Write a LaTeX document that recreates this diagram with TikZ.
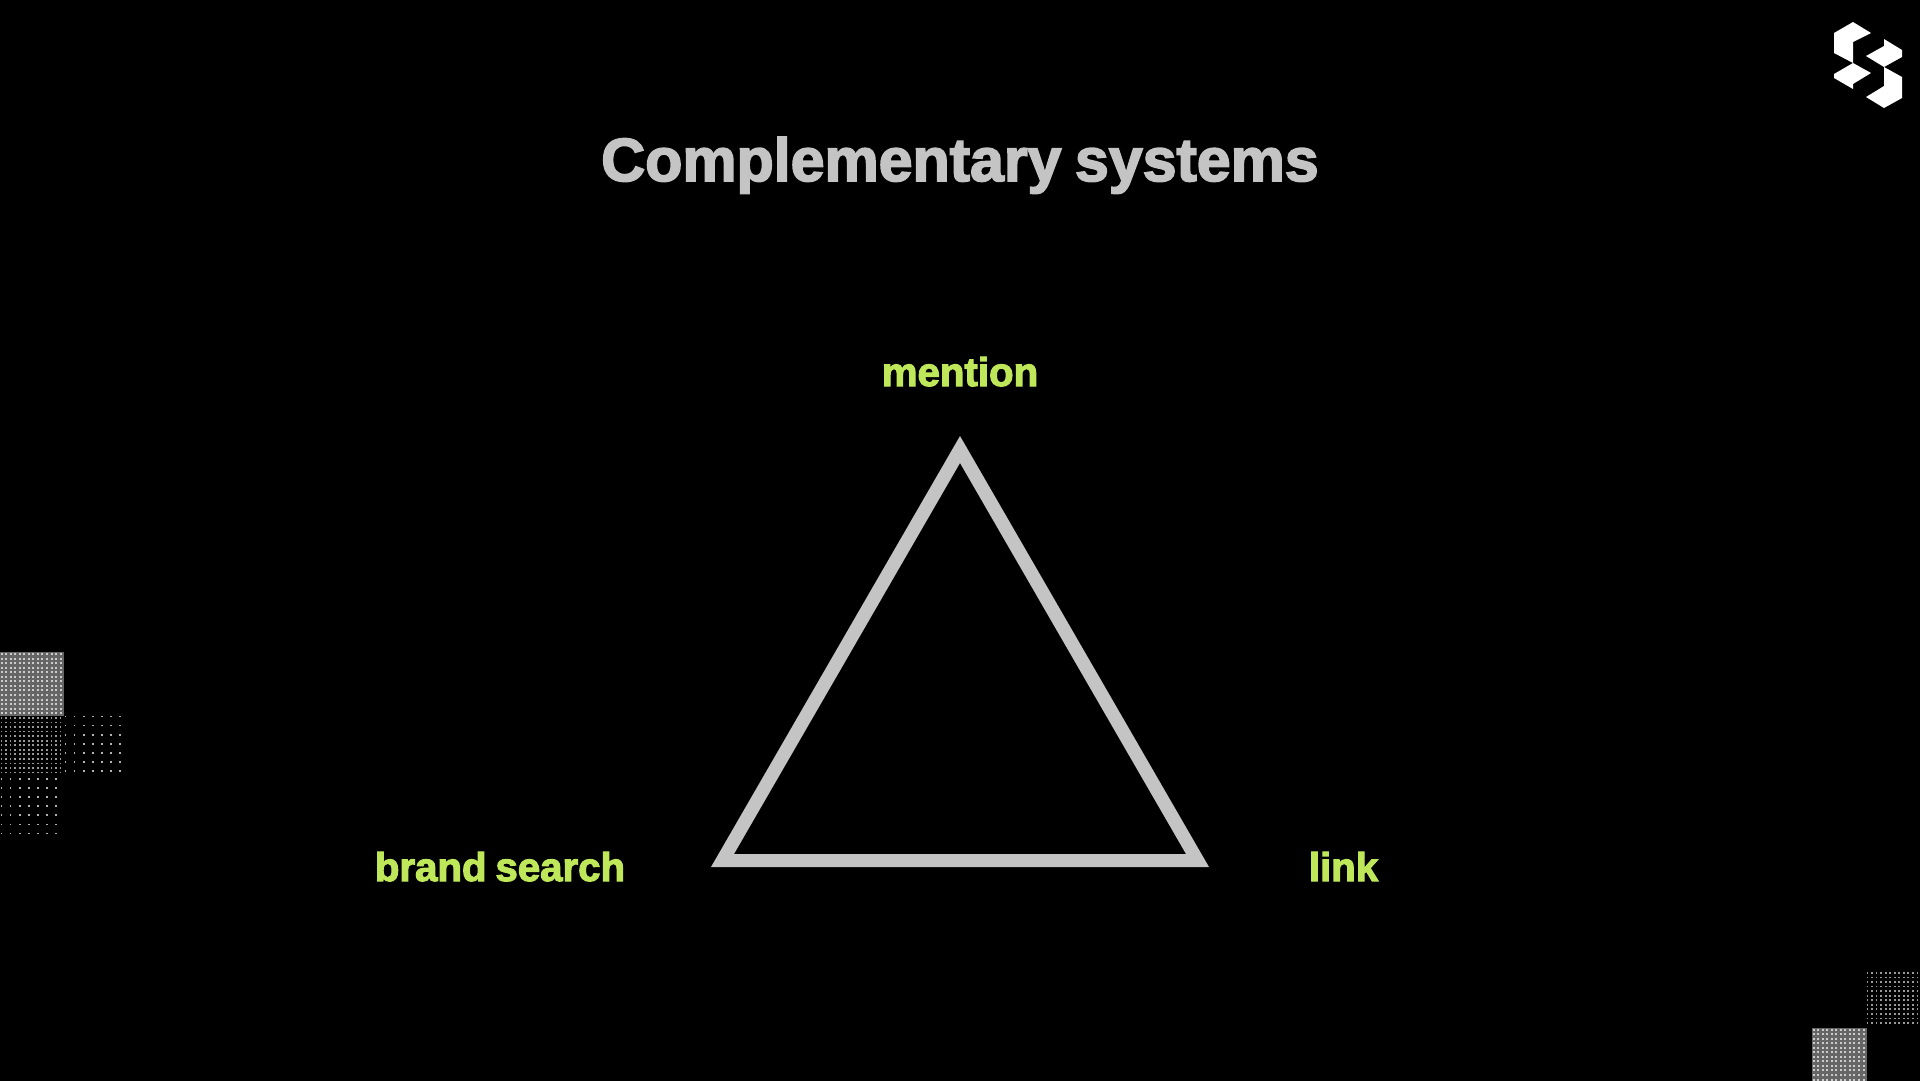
\documentclass[tikz,border=0pt]{standalone}
\usepackage{fontspec}
\setmainfont{Liberation Sans}
\newfontfamily\heavyfont{Liberation Sans Bold}[FakeBold=2.8,WordSpace=0.6,LetterSpace=0]
\newfontfamily\labelfont{Liberation Sans Bold}[FakeBold=2.8,WordSpace=0.8,LetterSpace=0]
\definecolor{titlegray}{HTML}{C4C4C4}
\definecolor{limegreen}{HTML}{BFE75A}
\definecolor{patchgray}{HTML}{666666}
\tikzset{
  titletext/.style={text=titlegray,font=\heavyfont\fontsize{60.9}{60}\selectfont,inner sep=0pt,anchor=base},
  labeltext/.style={text=limegreen,font=\labelfont\fontsize{40.2}{40}\selectfont,inner sep=0pt,anchor=base},
  logopart/.style={fill=white,draw=none}
}
\newcommand{\dotgrid}[7]{% x0,y0,x1,y1,pitch,size,colour
  \foreach \ix in {0,...,200}{%
    \pgfmathsetmacro{\dx}{#1+\ix*#5}%
    \pgfmathparse{\dx<#3?1:0}%
    \ifnum\pgfmathresult=1
      \foreach \iy in {0,...,200}{%
        \pgfmathsetmacro{\dy}{#2+\iy*#5}%
        \pgfmathparse{\dy<#4?1:0}%
        \ifnum\pgfmathresult=1
          \fill[#7] (\dx,\dy) rectangle ++(#6,#6);
        \fi
      }%
    \fi
  }%
}
\begin{document}
\begin{tikzpicture}[x=1pt,y=-1pt]
\useasboundingbox (0,0) rectangle (1920,1080);
\fill[black] (-3,-3) rectangle (1923,1083);
\node[titletext] (title) at (960,181) {Complementary systems};
\node[labeltext] (mention) at (960,386) {mention};
\node[labeltext] (brand) at (500,881) {brand search};
\node[labeltext] (link) at (1343.5,881) {link};
\coordinate (a) at (960,436);
\coordinate (b) at (711,867);
\coordinate (c) at (1209,867);
\coordinate (ai) at (960,463);
\coordinate (bi) at (734,854);
\coordinate (ci) at (1186,854);
\fill[titlegray,even odd rule] (a)--(c)--(b)--cycle (ai)--(ci)--(bi)--cycle;
% patches
\fill[patchgray] (0,652) rectangle (64,716);
\dotgrid{0.5}{653}{64}{716}{4.55}{2}{white!80!black}
\dotgrid{0.5}{717}{64}{776}{4.55}{1.8}{white!60!black}
\dotgrid{64.5}{715.5}{122}{776}{9.1}{1.8}{white!70!black}
\dotgrid{0.5}{778}{57}{838}{9.1}{1.8}{white!70!black}
\dotgrid{1866.5}{972}{1920}{1026}{4.55}{1.8}{white!60!black}
\fill[patchgray] (1812,1028) rectangle (1867,1083);
\dotgrid{1812.5}{1028.5}{1867}{1083}{4.55}{2}{white!80!black}
% logo
\fill[logopart] (1853,22)--(1871,33)--(1853,42)--(1853,63)--(1834,53)--(1834,33)--cycle;
\fill[logopart] (1884,39)--(1902,50)--(1902,57)--(1884,67)--(1866,56)--(1884,46)--cycle;
\fill[logopart] (1853,63)--(1871,73)--(1853,84)--(1853,89)--(1834,78)--(1834,74)--cycle;
\fill[logopart] (1884,67)--(1902,77)--(1902,98)--(1884,108)--(1866,97)--(1884,86)--cycle;
\end{tikzpicture}
\end{document}
